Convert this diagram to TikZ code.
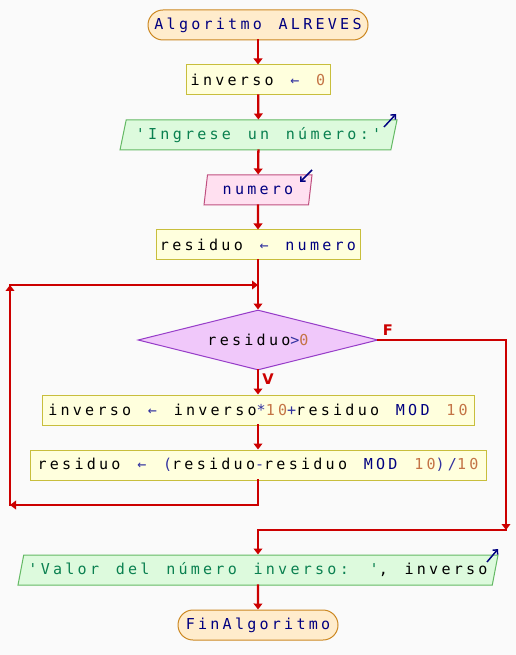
\documentclass[tikz,border=0pt]{standalone}
\usepackage{fontspec}
\usetikzlibrary{shapes.geometric,arrows.meta}
\newfontfamily\psfont{DejaVu Sans Mono}[LetterSpace=21.5,WordSpace=1.36]
\newfontfamily\lblfont{DejaVu Sans}
\definecolor{bgcol}{RGB}{250,250,250}
\definecolor{flowred}{RGB}{204,0,0}
\definecolor{kwnavy}{RGB}{0,0,128}
\definecolor{opblue}{RGB}{50,50,160}
\definecolor{numorange}{RGB}{196,116,70}
\definecolor{strgreen}{RGB}{10,128,80}
\definecolor{procfill}{RGB}{255,255,221}
\definecolor{procline}{RGB}{200,190,60}
\definecolor{termfill}{RGB}{255,236,204}
\definecolor{termline}{RGB}{204,136,34}
\definecolor{outfill}{RGB}{221,250,221}
\definecolor{outline}{RGB}{100,185,100}
\definecolor{infill}{RGB}{255,224,240}
\definecolor{inline}{RGB}{192,80,128}
\definecolor{condfill}{RGB}{240,200,250}
\definecolor{condline}{RGB}{150,60,200}
\newcommand{\pkw}[1]{\textcolor{kwnavy}{#1}}
\newcommand{\pop}{\textcolor{opblue}{←}}
\newcommand{\pnum}[1]{\textcolor{numorange}{#1}}
\newcommand{\pstr}[1]{\textcolor{strgreen}{#1}}
\begin{document}
\begin{tikzpicture}[x=0.75pt,y=-0.75pt,
  every node/.style={font=\psfont\fontsize{11.3pt}{13pt}\selectfont,inner sep=0pt},
  term/.style={draw=termline,fill=termfill,line width=0.75pt,rounded corners=11.25pt,minimum height=22.5pt},
  proc/.style={draw=procline,fill=procfill,line width=0.75pt,minimum height=22.5pt},
  outp/.style={trapezium,trapezium left angle=68,trapezium right angle=112,trapezium stretches body,draw=outline,fill=outfill,line width=0.75pt,minimum height=22.5pt},
  inp/.style={outp,draw=inline,fill=infill},
  cond/.style={diamond,aspect=4,draw=condline,fill=condfill,line width=0.75pt,minimum height=45pt},
  line/.style={draw=flowred,line width=1.7pt,line cap=rect},
  flow/.style={line,-{Triangle[length=4.5pt,width=6.5pt]}},
  io/.style={draw=kwnavy,line width=1.1pt,-{Straight Barb[length=2.6pt,width=5pt]}},
  lbl/.style={font=\lblfont\bfseries\fontsize{11pt}{12pt}\selectfont,text=flowred}]

\useasboundingbox[fill=bgcol] (0,0) rectangle (516,655);

%Nodes
\node [term,minimum width=165pt] (start) at (258,25) {\pkw{Algoritmo} \pkw{ALREVES}};
\node [proc,minimum width=108pt] (inv0) at (258,80) {inverso \pop{} \pnum{0}};
\node [outp,minimum width=207.75pt] (msg) at (258.5,135) {\pstr{'Ingrese un número:'}};
\node [inp,minimum width=81pt] (read) at (258,190) {\pkw{numero}};
\node [proc,minimum width=153pt] (res0) at (258,245) {residuo \pop{} \pkw{numero}};
\node [cond,minimum width=180pt] (test) at (258,340) {residuo\textcolor{opblue}{>}\pnum{0}};
\node [proc,minimum width=324pt] (invnew) at (258,410) {inverso \pop{} inverso\textcolor{opblue}{*}\pnum{10}\textcolor{opblue}{+}residuo \pkw{MOD} \pnum{10}};
\node [proc,minimum width=342pt] (resnew) at (258,465) {residuo \pop{} \textcolor{opblue}{(}residuo\textcolor{opblue}{-}residuo \pkw{MOD} \pnum{10}\textcolor{opblue}{)/}\pnum{10}};
\node [outp,minimum width=360pt] (show) at (258,570) {\pstr{'Valor del número inverso: '}, inverso};
\node [term,minimum width=120pt] (stop) at (258,625) {\pkw{FinAlgoritmo}};

\node [lbl] (lblF) at (388,330) {F};
\node [lbl] (lblV) at (268,379) {V};

%Corners
\coordinate (loopin) at (258,285);
\coordinate (loopul) at (10,285);
\coordinate (loopll) at (10,505);
\coordinate (loopout) at (258,505);
\coordinate (exitr) at (506,340);
\coordinate (exitd) at (506,530);
\coordinate (exitj) at (258,530);

%Arrows
\draw [flow] (start) -- (inv0);
\draw [flow] (inv0) -- (msg);
\draw [flow] (msg) -- (read);
\draw [flow] (read) -- (res0);
\draw [line] (res0) -- (loopin);
\draw [flow] (loopin) -- (test);
\draw [flow] (test) -- (invnew);
\draw [flow] (invnew) -- (resnew);
\draw [line] (resnew) -- (loopout);
\draw [flow] (loopout) -- (loopll);
\draw [flow] (loopll) -- (loopul);
\draw [flow] (loopul) -- (loopin);
\draw [line] (test.east) -- (exitr);
\draw [flow] (exitr) -- (exitd);
\draw [line] (exitd) -- (exitj);
\draw [flow] (exitj) -- (show);
\draw [flow] (show) -- (stop);

%In/out marks
\draw [io] (384,127) -- (396,114);
\draw [io] (312,170) -- (300,182);
\draw [io] (487,562) -- (498,549);
\end{tikzpicture}
\end{document}
